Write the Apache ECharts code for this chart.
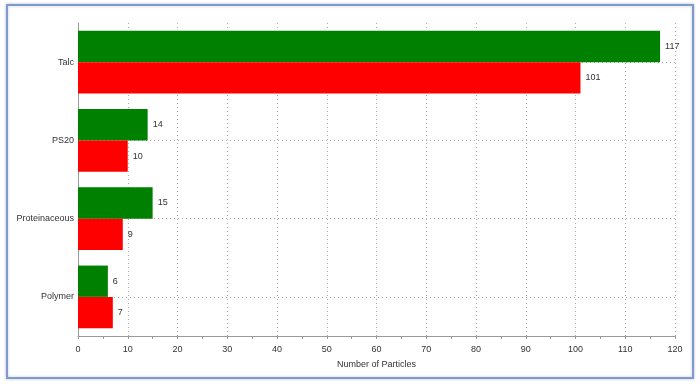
<!DOCTYPE html>
<html><head><meta charset="utf-8">
<script src="https://cdn.jsdelivr.net/npm/echarts@6/dist/echarts.min.js"></script>
<style>html,body{margin:0;padding:0;background:#fff}#c{width:700px;height:384px}</style>
</head><body><div id="c"></div>
<script>
const categories = ['Talc', 'PS20', 'Proteinaceous', 'Polymer'];
const greenValues = [117, 14, 15, 6];
const redValues = [101, 10, 9, 7];
const xTicks = {min: 0, max: 120, interval: 10};
const xAxisTitle = 'Number of Particles';

const chart = echarts.init(document.getElementById('c'), null, {renderer: 'canvas'});
const labelStyle = {show: true, position: 'right', distance: 5, color: '#333', fontSize: 9, fontFamily: 'Liberation Sans, Arial, sans-serif'};
chart.setOption({
  animation: false,
  textStyle: {fontFamily: 'Liberation Sans, Arial, sans-serif'},
  graphic: [{
    type: 'rect', shape: {x: 7, y: 5, width: 686, height: 373},
    style: {fill: '#fff', stroke: '#7f9acb', lineWidth: 2, shadowBlur: 3, shadowColor: 'rgba(100,120,160,0.4)'},
    z: -10, silent: true
  }],
  grid: {left: 78, right: 25, top: 23, bottom: 48, containLabel: false},
  xAxis: {
    type: 'value', min: xTicks.min, max: xTicks.max, interval: xTicks.interval,
    name: xAxisTitle, nameLocation: 'middle', nameGap: 24,
    nameTextStyle: {fontSize: 9, color: '#333'},
    axisLine: {show: true, lineStyle: {color: '#999'}},
    axisTick: {show: true, length: 3, lineStyle: {color: '#999'}},
    minorTick: {show: true, splitNumber: 2, length: 3, lineStyle: {color: '#999'}},
    axisLabel: {fontSize: 9, color: '#333', margin: 9},
    splitLine: {show: true, lineStyle: {color: '#aaa', type: [1, 3]}}
  },
  yAxis: {
    type: 'category', data: categories, inverse: true,
    axisLine: {show: true, lineStyle: {color: '#999'}},
    axisTick: {show: false, alignWithLabel: true},
    axisLabel: {fontSize: 9, color: '#333', margin: 4},
    splitLine: {show: true, alignWithLabel: true, lineStyle: {color: '#aaa', type: [1, 3]}}
  },
  series: [
    {type: 'bar', data: greenValues, itemStyle: {color: '#008000'}, barGap: '0%', barCategoryGap: '20%', label: labelStyle},
    {type: 'bar', data: redValues, itemStyle: {color: '#ff0000'}, barGap: '0%', barCategoryGap: '20%', label: labelStyle}
  ]
});
</script></body></html>
